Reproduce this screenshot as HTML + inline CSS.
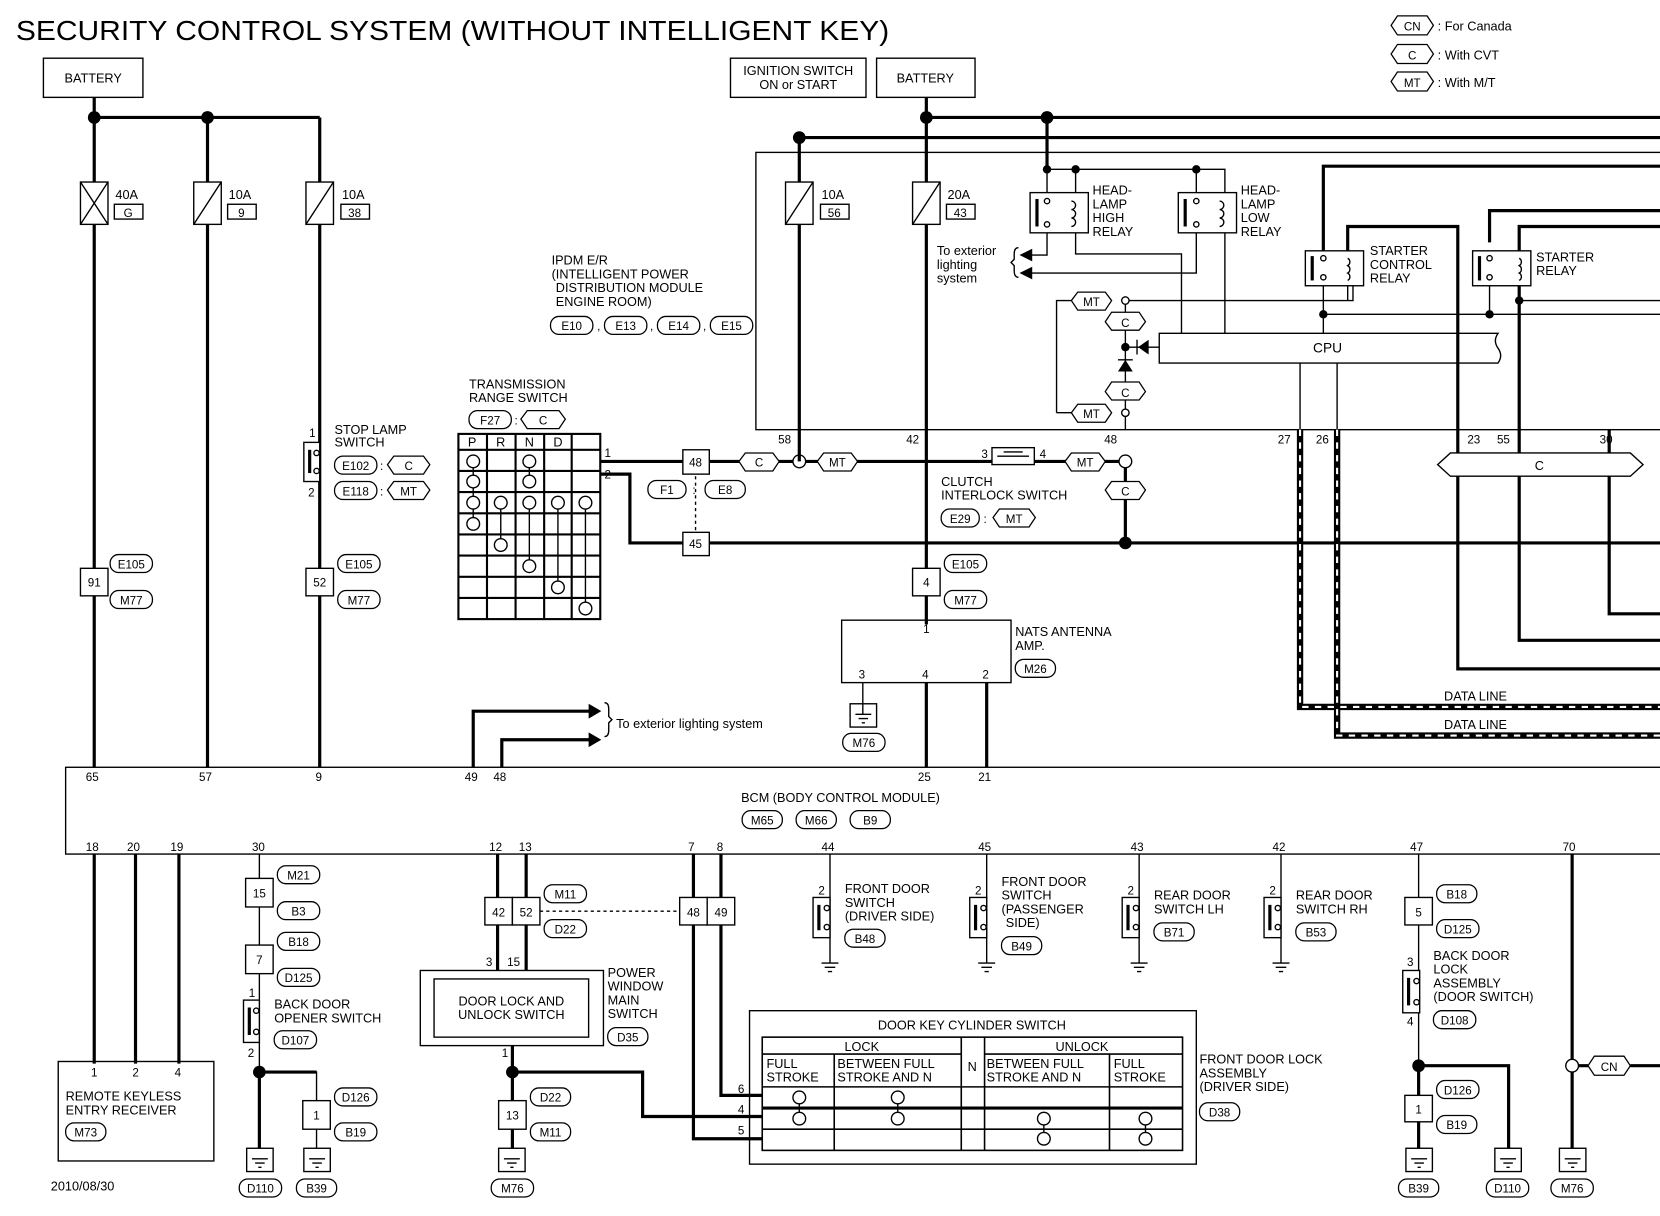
<!DOCTYPE html>
<html><head><meta charset="utf-8"><style>
html,body{margin:0;padding:0;background:#fff}
svg{display:block}
text{font-family:"Liberation Sans",sans-serif;fill:#000}
.t{font-size:13px}.s{font-size:12px}.m{font-size:11px}
.w{stroke:#000;stroke-width:3;fill:none}
.n{stroke:#000;stroke-width:1.3;fill:none}
.b{stroke:#000;stroke-width:1.3;fill:#fff}
.p{stroke:#000;stroke-width:1.2;fill:#fff}
</style></head><body>
<svg width="1660" height="1216" viewBox="0 0 1568 1149" preserveAspectRatio="none" xmlns="http://www.w3.org/2000/svg">
<rect width="1568" height="1149" fill="#fff"/>
<text x="15" y="38" style="font-size:26px" textLength="825" lengthAdjust="spacingAndGlyphs">SECURITY CONTROL SYSTEM (WITHOUT INTELLIGENT KEY)</text>
<!-- legend -->
<polygon class="p" points="1314,24 1320,15 1348,15 1354,24 1348,33 1320,33"/><text x="1334" y="29" class="m" text-anchor="middle">CN</text><text x="1358" y="29" class="s">: For Canada</text>
<polygon class="p" points="1314,51 1320,42 1348,42 1354,51 1348,60 1320,60"/><text x="1334" y="56" class="m" text-anchor="middle">C</text><text x="1358" y="56" class="s">: With CVT</text>
<polygon class="p" points="1314,77 1320,68 1348,68 1354,77 1348,86 1320,86"/><text x="1334" y="82" class="m" text-anchor="middle">MT</text><text x="1358" y="82" class="s">: With M/T</text>
<!-- top boxes -->
<rect class="b" x="41" y="55" width="94" height="37"/><text x="88" y="78" class="s" text-anchor="middle">BATTERY</text>
<rect class="b" x="690" y="55" width="128" height="37"/><text x="754" y="71" class="s" text-anchor="middle">IGNITION SWITCH</text><text x="754" y="84" class="s" text-anchor="middle">ON or START</text>
<rect class="b" x="828" y="55" width="93" height="37"/><text x="874" y="78" class="s" text-anchor="middle">BATTERY</text>
<!-- left power -->
<path class="w" d="M89 92V725M89 111H302M196 111V725M302 111V725"/>
<circle cx="89" cy="111" r="6"/><circle cx="196" cy="111" r="6"/>
<rect class="b" x="76" y="172" width="26" height="40"/><path class="n" d="M76 172L102 212M102 172L76 212"/>
<text x="109" y="188" class="s">40A</text><rect class="b" x="108" y="193" width="27" height="14"/><text x="121" y="205" class="m" text-anchor="middle">G</text>
<rect class="b" x="183" y="172" width="26" height="40"/><path class="n" d="M183 212L209 172"/>
<text x="216" y="188" class="s">10A</text><rect class="b" x="215" y="193" width="27" height="14"/><text x="228" y="205" class="m" text-anchor="middle">9</text>
<rect class="b" x="289" y="172" width="26" height="40"/><path class="n" d="M289 212L315 172"/>
<text x="323" y="188" class="s">10A</text><rect class="b" x="322" y="193" width="27" height="14"/><text x="335" y="205" class="m" text-anchor="middle">38</text>
<rect class="b" x="76" y="537" width="26" height="26"/><text x="89" y="554" class="m" text-anchor="middle">91</text>
<rect class="p" x="104" y="524" width="40" height="17" rx="8"/><text x="124" y="537" class="m" text-anchor="middle">E105</text>
<rect class="p" x="104" y="558" width="40" height="17" rx="8"/><text x="124" y="571" class="m" text-anchor="middle">M77</text>
<rect class="b" x="289" y="537" width="26" height="26"/><text x="302" y="554" class="m" text-anchor="middle">52</text>
<rect class="p" x="319" y="524" width="40" height="17" rx="8"/><text x="339" y="537" class="m" text-anchor="middle">E105</text>
<rect class="p" x="319" y="558" width="40" height="17" rx="8"/><text x="339" y="571" class="m" text-anchor="middle">M77</text>
<!-- stop lamp -->
<rect class="b" x="287" y="418" width="15" height="37"/><rect x="291" y="425" width="3" height="22"/><circle class="b" cx="299" cy="428" r="2.5"/><circle class="b" cx="299" cy="445" r="2.5"/>
<text x="292" y="413" class="m">1</text><text x="291" y="469" class="m">2</text>
<text x="316" y="410" class="s">STOP LAMP</text><text x="316" y="422" class="s">SWITCH</text>
<rect class="p" x="316" y="431" width="40" height="17" rx="8"/><text x="336" y="444" class="m" text-anchor="middle">E102</text><text x="359" y="444" class="m">:</text>
<polygon class="p" points="366,439 372,431 400,431 406,439 400,448 372,448"/><text x="386" y="444" class="m" text-anchor="middle">C</text>
<rect class="p" x="316" y="455" width="40" height="17" rx="8"/><text x="336" y="468" class="m" text-anchor="middle">E118</text><text x="359" y="468" class="m">:</text>
<polygon class="p" points="366,463 372,455 400,455 406,463 400,472 372,472"/><text x="386" y="468" class="m" text-anchor="middle">MT</text>
<!-- transmission range switch -->
<text x="443" y="367" class="s">TRANSMISSION</text><text x="443" y="380" class="s">RANGE SWITCH</text>
<rect class="p" x="443" y="388" width="40" height="17" rx="8"/><text x="463" y="401" class="m" text-anchor="middle">F27</text><text x="486" y="401" class="m">:</text>
<polygon class="p" points="492,396 498,388 528,388 534,396 528,405 498,405"/><text x="513" y="401" class="m" text-anchor="middle">C</text>
<g stroke="#000" stroke-width="2" fill="none">
<rect x="433" y="410" width="134" height="175"/>
<path d="M460 410V585M487 410V585M514 410V585M540 410V585M433 425H567M433 445H567M433 465H567M433 485H567M433 505H567M433 525H567M433 545H567M433 565H567"/>
</g>
<text x="446" y="422" class="s" text-anchor="middle">P</text><text x="473" y="422" class="s" text-anchor="middle">R</text><text x="500" y="422" class="s" text-anchor="middle">N</text><text x="527" y="422" class="s" text-anchor="middle">D</text>
<path class="n" d="M447 436V495M473 475V515M500 436V455M500 475V535M527 475V555M553 475V575"/>
<g class="b"><circle cx="447" cy="436" r="6"/><circle cx="447" cy="455" r="6"/><circle cx="447" cy="475" r="6"/><circle cx="447" cy="495" r="6"/><circle cx="473" cy="475" r="6"/><circle cx="473" cy="515" r="6"/><circle cx="500" cy="436" r="6"/><circle cx="500" cy="455" r="6"/><circle cx="500" cy="475" r="6"/><circle cx="500" cy="535" r="6"/><circle cx="527" cy="475" r="6"/><circle cx="527" cy="555" r="6"/><circle cx="553" cy="475" r="6"/><circle cx="553" cy="575" r="6"/></g>
<text x="571" y="432" class="m">1</text><text x="571" y="452" class="m">2</text>
<!-- main signal wires -->
<path class="w" d="M567 436H1063M567 448H595V513H1568M1063 436V513"/>
<circle cx="1063" cy="513" r="6"/>
<rect class="b" x="645" y="425" width="25" height="23"/><text x="657" y="441" class="m" text-anchor="middle">48</text>
<rect class="b" x="645" y="503" width="25" height="22"/><text x="657" y="518" class="m" text-anchor="middle">45</text>
<path class="n" d="M657 450V503" stroke-dasharray="3,3"/>
<rect class="p" x="612" y="454" width="36" height="17" rx="8"/><text x="630" y="467" class="m" text-anchor="middle">F1</text><text x="654" y="467" class="m">:</text>
<rect class="p" x="666" y="454" width="38" height="17" rx="8"/><text x="685" y="467" class="m" text-anchor="middle">E8</text>
<polygon class="p" points="698,436 704,428 730,428 736,436 730,445 704,445"/><text x="717" y="441" class="m" text-anchor="middle">C</text>
<circle class="b" cx="755" cy="436" r="6"/>
<polygon class="p" points="772,436 778,428 804,428 810,436 804,445 778,445"/><text x="791" y="441" class="m" text-anchor="middle">MT</text>
<rect class="b" x="937" y="423" width="40" height="16"/><path class="n" d="M942 431H972M948 427H966"/>
<text x="927" y="433" class="m">3</text><text x="982" y="433" class="m">4</text>
<polygon class="p" points="1006,436 1012,428 1038,428 1044,436 1038,445 1012,445"/><text x="1025" y="441" class="m" text-anchor="middle">MT</text>
<circle class="b" cx="1063" cy="436" r="6"/>
<polygon class="p" points="1044,463 1050,455 1076,455 1082,463 1076,472 1050,472"/><text x="1063" y="468" class="m" text-anchor="middle">C</text>
<text x="889" y="459" class="s">CLUTCH</text><text x="889" y="472" class="s">INTERLOCK SWITCH</text>
<rect class="p" x="889" y="481" width="36" height="17" rx="8"/><text x="907" y="494" class="m" text-anchor="middle">E29</text><text x="929" y="494" class="m">:</text>
<polygon class="p" points="938,489 944,481 972,481 978,489 972,498 944,498"/><text x="958" y="494" class="m" text-anchor="middle">MT</text>
<!-- IPDM -->
<rect class="n" x="714" y="144" width="860" height="262"/>
<path class="w" d="M875 92V590M875 111H1568M755 130H1568M755 130V436"/>
<circle cx="875" cy="111" r="6"/><circle cx="989" cy="111" r="6"/><circle cx="755" cy="130" r="6"/>
<rect class="b" x="742" y="172" width="26" height="40"/><path class="n" d="M742 212L768 172"/>
<text x="776" y="188" class="s">10A</text><rect class="b" x="775" y="193" width="27" height="14"/><text x="788" y="205" class="m" text-anchor="middle">56</text>
<rect class="b" x="862" y="172" width="26" height="40"/><path class="n" d="M862 212L888 172"/>
<text x="895" y="188" class="s">20A</text><rect class="b" x="894" y="193" width="27" height="14"/><text x="907" y="205" class="m" text-anchor="middle">43</text>
<text x="521" y="250" class="s">IPDM E/R</text><text x="521" y="263" class="s">(INTELLIGENT POWER</text><text x="525" y="276" class="s">DISTRIBUTION MODULE</text><text x="525" y="289" class="s">ENGINE ROOM)</text>
<rect class="p" x="520" y="299" width="40" height="17" rx="8"/><text x="540" y="312" class="m" text-anchor="middle">E10</text>
<rect class="p" x="571" y="299" width="40" height="17" rx="8"/><text x="591" y="312" class="m" text-anchor="middle">E13</text>
<rect class="p" x="621" y="299" width="40" height="17" rx="8"/><text x="641" y="312" class="m" text-anchor="middle">E14</text>
<rect class="p" x="671" y="299" width="40" height="17" rx="8"/><text x="691" y="312" class="m" text-anchor="middle">E15</text>
<text x="564" y="312" class="m">,</text><text x="614" y="312" class="m">,</text><text x="664" y="312" class="m">,</text>
<!-- headlamp relays -->
<path class="w" d="M989 111V160"/>
<path class="n" d="M989 160H1130M1130 160V182M1016 160V182M989 160V182M989 220V241H965M1016 220V240H1116V315M1130 220V258H965M1157 182V160H1130M1157 220V315"/>
<circle cx="989" cy="160" r="4"/><circle cx="1016" cy="160" r="4"/><circle cx="1130" cy="160" r="4"/>
<rect class="b" x="973" y="182" width="55" height="38"/><rect x="978" y="188" width="3" height="26"/><circle class="b" cx="989" cy="190" r="2.5"/><circle class="b" cx="989" cy="212" r="2.5"/><path class="n" d="M1012 190a4 4 0 0 1 0 8a4 4 0 0 1 0 8a4 4 0 0 1 0 8"/>
<text x="1032" y="184" class="s">HEAD-</text><text x="1032" y="197" class="s">LAMP</text><text x="1032" y="210" class="s">HIGH</text><text x="1032" y="223" class="s">RELAY</text>
<rect class="b" x="1113" y="182" width="55" height="38"/><rect x="1118" y="188" width="3" height="26"/><circle class="b" cx="1130" cy="190" r="2.5"/><circle class="b" cx="1130" cy="212" r="2.5"/><path class="n" d="M1152 190a4 4 0 0 1 0 8a4 4 0 0 1 0 8a4 4 0 0 1 0 8"/>
<text x="1172" y="184" class="s">HEAD-</text><text x="1172" y="197" class="s">LAMP</text><text x="1172" y="210" class="s">LOW</text><text x="1172" y="223" class="s">RELAY</text>
<polygon points="963,241 975,235 975,247"/><polygon points="963,258 975,252 975,264"/>
<text x="885" y="241" class="s">To exterior</text><text x="885" y="254" class="s">lighting</text><text x="885" y="267" class="s">system</text>
<path class="n" d="M962 234q-4 0-4 6v5l-3 3l3 3v5q0 6 4 6"/>
<!-- MT/C diode area -->
<path class="n" d="M1063 284H1278V260M998 390V284H1012M998 390H1012M1063 284V406M1063 328H1095"/>
<polygon class="p" points="1012,284 1018,276 1044,276 1050,284 1044,293 1018,293"/><text x="1031" y="289" class="m" text-anchor="middle">MT</text>
<polygon class="p" points="1012,390 1018,382 1044,382 1050,390 1044,399 1018,399"/><text x="1031" y="395" class="m" text-anchor="middle">MT</text>
<circle class="b" cx="1063" cy="284" r="3.5"/><circle class="b" cx="1063" cy="390" r="3.5"/>
<polygon class="p" points="1044,304 1050,295 1076,295 1082,304 1076,312 1050,312"/><text x="1063" y="309" class="m" text-anchor="middle">C</text>
<polygon class="p" points="1044,370 1050,361 1076,361 1082,370 1076,378 1050,378"/><text x="1063" y="375" class="m" text-anchor="middle">C</text>
<circle cx="1063" cy="328" r="4"/><polygon points="1056,351 1070,351 1063,340"/><path class="n" d="M1056 340H1070"/>
<polygon points="1085,321 1085,335 1075,328"/><path class="n" d="M1074 321V335"/>
<!-- CPU -->
<path class="b" d="M1095 315H1415q-5 7 0 14q5 7 0 14H1095Z"/><text x="1254" y="333" class="t" text-anchor="middle">CPU</text>
<!-- starter relays -->
<path class="w" d="M1250 237V157H1568M1407 229V199H1568M1273 237V214H1377V632H1568M1435 237V214H1568M1435 270V605H1568"/>
<path class="n" d="M1250 270V315M1273 270V284M1250 297H1568M1407 270V297M1435 284H1568M1228 343V406M1263 343V406"/>
<circle cx="1250" cy="297" r="4"/><circle cx="1407" cy="297" r="4"/><circle cx="1435" cy="284" r="4"/>
<rect class="b" x="1233" y="237" width="55" height="33"/><rect x="1238" y="242" width="3" height="23"/><circle class="b" cx="1250" cy="244" r="2.5"/><circle class="b" cx="1250" cy="262" r="2.5"/><path class="n" d="M1273 244a4 4 0 0 1 0 7a4 4 0 0 1 0 7a4 4 0 0 1 0 7"/>
<text x="1294" y="241" class="s">STARTER</text><text x="1294" y="254" class="s">CONTROL</text><text x="1294" y="267" class="s">RELAY</text>
<rect class="b" x="1391" y="237" width="55" height="33"/><rect x="1396" y="242" width="3" height="23"/><circle class="b" cx="1407" cy="244" r="2.5"/><circle class="b" cx="1407" cy="262" r="2.5"/><path class="n" d="M1435 244a4 4 0 0 1 0 7a4 4 0 0 1 0 7a4 4 0 0 1 0 7"/>
<text x="1451" y="247" class="s">STARTER</text><text x="1451" y="260" class="s">RELAY</text>
<!-- pins on IPDM bottom -->
<text x="735" y="419" class="m">58</text><text x="856" y="419" class="m">42</text><text x="1043" y="419" class="m">48</text><text x="1207" y="419" class="m">27</text><text x="1243" y="419" class="m">26</text><text x="1386" y="419" class="m">23</text><text x="1414" y="419" class="m">55</text><text x="1511" y="419" class="m">30</text>
<path class="w" d="M1520 406V580H1568"/>
<path class="b" d="M1370 428H1540L1552 439L1540 450H1370L1358 439Z"/><text x="1454" y="444" class="s" text-anchor="middle">C</text>
<!-- data lines -->
<path d="M1228 406V668H1568M1263 406V695H1568" stroke="#000" stroke-width="6" fill="none"/>
<path d="M1228 406V668H1568M1263 406V695H1568" stroke="#fff" stroke-width="2" fill="none" stroke-dasharray="6,6"/>
<text x="1364" y="662" class="s">DATA LINE</text><text x="1364" y="689" class="s">DATA LINE</text>
<!-- NATS -->
<rect class="b" x="862" y="537" width="26" height="26"/><text x="875" y="554" class="m" text-anchor="middle">4</text>
<rect class="p" x="892" y="524" width="40" height="17" rx="8"/><text x="912" y="537" class="m" text-anchor="middle">E105</text>
<rect class="p" x="892" y="558" width="40" height="17" rx="8"/><text x="912" y="571" class="m" text-anchor="middle">M77</text>
<rect class="n" x="795" y="586" width="160" height="59"/>
<text x="872" y="598" class="m">1</text><text x="811" y="641" class="m">3</text><text x="871" y="641" class="m">4</text><text x="928" y="641" class="m">2</text>
<text x="959" y="601" class="s">NATS ANTENNA</text><text x="959" y="614" class="s">AMP.</text>
<rect class="p" x="959" y="623" width="38" height="17" rx="8"/><text x="978" y="636" class="m" text-anchor="middle">M26</text>
<path class="w" d="M875 645V725M932 645V725"/><path class="n" d="M815 645V675"/>
<rect class="n" x="803" y="665" width="25" height="22"/><path class="n" d="M808 675H823M811 679H820M814 683H817"/>
<rect class="p" x="796" y="693" width="40" height="17" rx="8"/><text x="816" y="706" class="m" text-anchor="middle">M76</text>
<!-- to exterior lighting -->
<path class="w" d="M447 725V672H560M474 725V699H560"/>
<polygon points="556,665 568,672 556,679"/><polygon points="556,692 568,699 556,706"/>
<path class="n" d="M571 664q4 0 4 6v7l3 3l-3 3v7q0 6-4 6"/>
<text x="582" y="688" class="s">To exterior lighting system</text>
<!-- BCM -->
<rect class="n" x="62" y="725" width="1520" height="82"/>
<text x="81" y="738" class="m">65</text><text x="188" y="738" class="m">57</text><text x="298" y="738" class="m">9</text><text x="439" y="738" class="m">49</text><text x="466" y="738" class="m">48</text><text x="867" y="738" class="m">25</text><text x="924" y="738" class="m">21</text>
<text x="700" y="758" class="s">BCM (BODY CONTROL MODULE)</text>
<rect class="p" x="701" y="766" width="38" height="17" rx="8"/><text x="720" y="779" class="m" text-anchor="middle">M65</text>
<rect class="p" x="752" y="766" width="38" height="17" rx="8"/><text x="771" y="779" class="m" text-anchor="middle">M66</text>
<rect class="p" x="803" y="766" width="38" height="17" rx="8"/><text x="822" y="779" class="m" text-anchor="middle">B9</text>
<text x="81" y="804" class="m">18</text><text x="120" y="804" class="m">20</text><text x="161" y="804" class="m">19</text><text x="238" y="804" class="m">30</text><text x="462" y="804" class="m">12</text><text x="490" y="804" class="m">13</text><text x="650" y="804" class="m">7</text><text x="677" y="804" class="m">8</text><text x="776" y="804" class="m">44</text><text x="924" y="804" class="m">45</text><text x="1068" y="804" class="m">43</text><text x="1202" y="804" class="m">42</text><text x="1332" y="804" class="m">47</text><text x="1476" y="804" class="m">70</text>
<!-- remote keyless -->
<path class="w" d="M89 807V1005M128 807V1005M169 807V1005"/>
<rect class="n" x="55" y="1003" width="147" height="94"/>
<text x="86" y="1017" class="m">1</text><text x="125" y="1017" class="m">2</text><text x="165" y="1017" class="m">4</text>
<text x="62" y="1040" class="s">REMOTE KEYLESS</text><text x="62" y="1053" class="s">ENTRY RECEIVER</text>
<rect class="p" x="62" y="1061" width="38" height="17" rx="8"/><text x="81" y="1074" class="m" text-anchor="middle">M73</text>
<text x="48" y="1125" class="s">2010/08/30</text>
<!-- back door opener -->
<path class="n" d="M245 807V1085M245 1013H299V1085"/><circle cx="245" cy="1013" r="6"/>
<path class="w" d="M245 1013V1085M245 1013H299"/>
<rect class="b" x="232" y="830" width="26" height="27"/><text x="245" y="848" class="m" text-anchor="middle">15</text>
<rect class="p" x="262" y="818" width="40" height="17" rx="8"/><text x="282" y="831" class="m" text-anchor="middle">M21</text>
<rect class="p" x="262" y="852" width="40" height="17" rx="8"/><text x="282" y="865" class="m" text-anchor="middle">B3</text>
<rect class="b" x="232" y="893" width="26" height="27"/><text x="245" y="911" class="m" text-anchor="middle">7</text>
<rect class="p" x="262" y="881" width="40" height="17" rx="8"/><text x="282" y="894" class="m" text-anchor="middle">B18</text>
<rect class="p" x="262" y="915" width="40" height="17" rx="8"/><text x="282" y="928" class="m" text-anchor="middle">D125</text>
<rect class="b" x="230" y="945" width="15" height="40"/><rect x="234" y="952" width="3" height="26"/><circle class="b" cx="242" cy="955" r="2.5"/><circle class="b" cx="242" cy="975" r="2.5"/>
<text x="235" y="942" class="m">1</text><text x="234" y="999" class="m">2</text>
<text x="259" y="953" class="s">BACK DOOR</text><text x="259" y="966" class="s">OPENER SWITCH</text>
<rect class="p" x="259" y="974" width="40" height="17" rx="8"/><text x="279" y="987" class="m" text-anchor="middle">D107</text>
<rect class="b" x="286" y="1040" width="26" height="27"/><text x="299" y="1058" class="m" text-anchor="middle">1</text>
<rect class="p" x="316" y="1028" width="40" height="17" rx="8"/><text x="336" y="1041" class="m" text-anchor="middle">D126</text>
<rect class="p" x="316" y="1061" width="40" height="17" rx="8"/><text x="336" y="1074" class="m" text-anchor="middle">B19</text>
<g class="n"><rect x="233" y="1085" width="25" height="22"/><path d="M238 1095H253M241 1099H250M244 1103H247"/><rect x="287" y="1085" width="25" height="22"/><path d="M292 1095H307M295 1099H304M298 1103H301"/><rect x="471" y="1085" width="25" height="22"/><path d="M476 1095H491M479 1099H488M482 1103H485"/><rect x="1328" y="1085" width="25" height="22"/><path d="M1333 1095H1348M1336 1099H1345M1339 1103H1342"/><rect x="1412" y="1085" width="25" height="22"/><path d="M1417 1095H1432M1420 1099H1429M1423 1103H1426"/><rect x="1473" y="1085" width="25" height="22"/><path d="M1478 1095H1493M1481 1099H1490M1484 1103H1487"/></g>
<rect class="p" x="226" y="1114" width="40" height="17" rx="8"/><text x="246" y="1127" class="m" text-anchor="middle">D110</text>
<rect class="p" x="280" y="1114" width="38" height="17" rx="8"/><text x="299" y="1127" class="m" text-anchor="middle">B39</text>
<rect class="p" x="464" y="1114" width="40" height="17" rx="8"/><text x="484" y="1127" class="m" text-anchor="middle">M76</text>
<rect class="p" x="1321" y="1114" width="38" height="17" rx="8"/><text x="1340" y="1127" class="m" text-anchor="middle">B39</text>
<rect class="p" x="1404" y="1114" width="40" height="17" rx="8"/><text x="1424" y="1127" class="m" text-anchor="middle">D110</text>
<rect class="p" x="1465" y="1114" width="40" height="17" rx="8"/><text x="1485" y="1127" class="m" text-anchor="middle">M76</text>
<!-- power window -->
<path class="w" d="M470 807V917M497 807V917M484 988V1085M484 1013H607V1055H720M655 807V1076H720M681 807V1035H720"/>
<circle cx="484" cy="1013" r="6"/>
<rect class="b" x="458" y="848" width="26" height="26"/><text x="471" y="866" class="m" text-anchor="middle">42</text>
<rect class="b" x="484" y="848" width="26" height="26"/><text x="497" y="866" class="m" text-anchor="middle">52</text>
<path class="n" d="M510 861H642" stroke-dasharray="3,3"/>
<rect class="b" x="642" y="848" width="26" height="26"/><text x="655" y="866" class="m" text-anchor="middle">48</text>
<rect class="b" x="668" y="848" width="26" height="26"/><text x="681" y="866" class="m" text-anchor="middle">49</text>
<rect class="p" x="514" y="836" width="40" height="17" rx="8"/><text x="534" y="849" class="m" text-anchor="middle">M11</text>
<rect class="p" x="514" y="869" width="40" height="17" rx="8"/><text x="534" y="882" class="m" text-anchor="middle">D22</text>
<text x="459" y="913" class="m">3</text><text x="479" y="913" class="m">15</text>
<rect class="b" x="397" y="917" width="173" height="71"/><rect class="n" x="410" y="925" width="146" height="55"/>
<text x="483" y="950" class="s" text-anchor="middle">DOOR LOCK AND</text><text x="483" y="963" class="s" text-anchor="middle">UNLOCK SWITCH</text>
<text x="574" y="923" class="s">POWER</text><text x="574" y="936" class="s">WINDOW</text><text x="574" y="949" class="s">MAIN</text><text x="574" y="962" class="s">SWITCH</text>
<rect class="p" x="574" y="971" width="38" height="17" rx="8"/><text x="593" y="984" class="m" text-anchor="middle">D35</text>
<text x="474" y="999" class="m">1</text>
<rect class="b" x="471" y="1040" width="26" height="27"/><text x="484" y="1058" class="m" text-anchor="middle">13</text>
<rect class="p" x="501" y="1028" width="38" height="17" rx="8"/><text x="520" y="1041" class="m" text-anchor="middle">D22</text>
<rect class="p" x="501" y="1061" width="38" height="17" rx="8"/><text x="520" y="1074" class="m" text-anchor="middle">M11</text>
<!-- door key cylinder -->
<rect class="n" x="708" y="955" width="422" height="145"/>
<text x="918" y="973" class="s" text-anchor="middle">DOOR KEY CYLINDER SWITCH</text>
<g stroke="#000" stroke-width="1.5" fill="none">
<rect x="720" y="980" width="397" height="107"/>
<path d="M720 996H908M930 996H1117M720 1027H1117M720 1047H1117M720 1067H1117M788 996V1087M908 980V1087M930 980V1087M1048 996V1087"/>
</g>
<path d="M720 1047H1117" stroke="#000" stroke-width="3"/>
<text x="814" y="993" class="s" text-anchor="middle">LOCK</text><text x="1022" y="993" class="s" text-anchor="middle">UNLOCK</text><text x="914" y="1012" class="s">N</text>
<text x="724" y="1009" class="s">FULL</text><text x="724" y="1022" class="s">STROKE</text><text x="791" y="1009" class="s">BETWEEN FULL</text><text x="791" y="1022" class="s">STROKE AND N</text>
<text x="932" y="1009" class="s">BETWEEN FULL</text><text x="932" y="1022" class="s">STROKE AND N</text><text x="1052" y="1009" class="s">FULL</text><text x="1052" y="1022" class="s">STROKE</text>
<path class="n" d="M755 1037V1057M848 1037V1057M986 1057V1076M1082 1057V1076"/>
<g class="b"><circle cx="755" cy="1037" r="6"/><circle cx="755" cy="1057" r="6"/><circle cx="848" cy="1037" r="6"/><circle cx="848" cy="1057" r="6"/><circle cx="986" cy="1057" r="6"/><circle cx="986" cy="1076" r="6"/><circle cx="1082" cy="1057" r="6"/><circle cx="1082" cy="1076" r="6"/></g>
<text x="697" y="1033" class="m">6</text><text x="697" y="1052" class="m">4</text><text x="697" y="1072" class="m">5</text>
<text x="1133" y="1005" class="s">FRONT DOOR LOCK</text><text x="1133" y="1018" class="s">ASSEMBLY</text><text x="1133" y="1031" class="s">(DRIVER SIDE)</text>
<rect class="p" x="1133" y="1042" width="38" height="17" rx="8"/><text x="1152" y="1055" class="m" text-anchor="middle">D38</text>
<!-- door switches -->
<path class="n" d="M784 807V910M932 807V910M1076 807V910M1210 807V910"/>
<g class="n"><path d="M776 910H792M779 914H789M782 918H786M924 910H940M927 914H937M930 918H934M1068 910H1084M1071 914H1081M1074 918H1078M1202 910H1218M1205 914H1215M1208 918H1212"/></g>
<rect class="b" x="768" y="848" width="16" height="38"/><rect x="772" y="855" width="3" height="24"/><circle class="b" cx="781" cy="858" r="2.5"/><circle class="b" cx="781" cy="876" r="2.5"/>
<text x="773" y="845" class="m">2</text><text x="798" y="844" class="s">FRONT DOOR</text><text x="798" y="857" class="s">SWITCH</text><text x="798" y="870" class="s">(DRIVER SIDE)</text>
<rect class="p" x="798" y="878" width="38" height="17" rx="8"/><text x="817" y="891" class="m" text-anchor="middle">B48</text>
<rect class="b" x="916" y="848" width="16" height="38"/><rect x="920" y="855" width="3" height="24"/><circle class="b" cx="929" cy="858" r="2.5"/><circle class="b" cx="929" cy="876" r="2.5"/>
<text x="921" y="845" class="m">2</text><text x="946" y="837" class="s">FRONT DOOR</text><text x="946" y="850" class="s">SWITCH</text><text x="946" y="863" class="s">(PASSENGER</text><text x="950" y="876" class="s">SIDE)</text>
<rect class="p" x="946" y="885" width="38" height="17" rx="8"/><text x="965" y="898" class="m" text-anchor="middle">B49</text>
<rect class="b" x="1060" y="848" width="16" height="38"/><rect x="1064" y="855" width="3" height="24"/><circle class="b" cx="1073" cy="858" r="2.5"/><circle class="b" cx="1073" cy="876" r="2.5"/>
<text x="1065" y="845" class="m">2</text><text x="1090" y="850" class="s">REAR DOOR</text><text x="1090" y="863" class="s">SWITCH LH</text>
<rect class="p" x="1090" y="872" width="38" height="17" rx="8"/><text x="1109" y="885" class="m" text-anchor="middle">B71</text>
<rect class="b" x="1194" y="848" width="16" height="38"/><rect x="1198" y="855" width="3" height="24"/><circle class="b" cx="1207" cy="858" r="2.5"/><circle class="b" cx="1207" cy="876" r="2.5"/>
<text x="1199" y="845" class="m">2</text><text x="1224" y="850" class="s">REAR DOOR</text><text x="1224" y="863" class="s">SWITCH RH</text>
<rect class="p" x="1224" y="872" width="38" height="17" rx="8"/><text x="1243" y="885" class="m" text-anchor="middle">B53</text>
<!-- back door lock -->
<path class="n" d="M1340 807V1007"/>
<path class="w" d="M1340 1007V1085M1340 1007H1425V1085"/><circle cx="1340" cy="1007" r="6"/>
<rect class="b" x="1327" y="848" width="26" height="26"/><text x="1340" y="866" class="m" text-anchor="middle">5</text>
<rect class="p" x="1357" y="836" width="38" height="17" rx="8"/><text x="1376" y="849" class="m" text-anchor="middle">B18</text>
<rect class="p" x="1357" y="869" width="40" height="17" rx="8"/><text x="1377" y="882" class="m" text-anchor="middle">D125</text>
<rect class="b" x="1325" y="917" width="16" height="40"/><rect x="1329" y="924" width="3" height="26"/><circle class="b" cx="1338" cy="927" r="2.5"/><circle class="b" cx="1338" cy="947" r="2.5"/>
<text x="1329" y="913" class="m">3</text><text x="1329" y="969" class="m">4</text>
<text x="1354" y="907" class="s">BACK DOOR</text><text x="1354" y="920" class="s">LOCK</text><text x="1354" y="933" class="s">ASSEMBLY</text><text x="1354" y="946" class="s">(DOOR SWITCH)</text>
<rect class="p" x="1354" y="955" width="40" height="17" rx="8"/><text x="1374" y="968" class="m" text-anchor="middle">D108</text>
<rect class="b" x="1327" y="1035" width="26" height="25"/><text x="1340" y="1052" class="m" text-anchor="middle">1</text>
<rect class="p" x="1357" y="1021" width="40" height="17" rx="8"/><text x="1377" y="1034" class="m" text-anchor="middle">D126</text>
<rect class="p" x="1357" y="1054" width="38" height="17" rx="8"/><text x="1376" y="1067" class="m" text-anchor="middle">B19</text>
<!-- 70 -->
<path class="w" d="M1485 807V1085M1491 1007H1500M1540 1007H1568"/>
<circle class="b" cx="1485" cy="1007" r="6"/>
<polygon class="p" points="1500,1007 1506,998 1534,998 1540,1007 1534,1016 1506,1016"/><text x="1520" y="1012" class="m" text-anchor="middle">CN</text>
</svg>
</body></html>
